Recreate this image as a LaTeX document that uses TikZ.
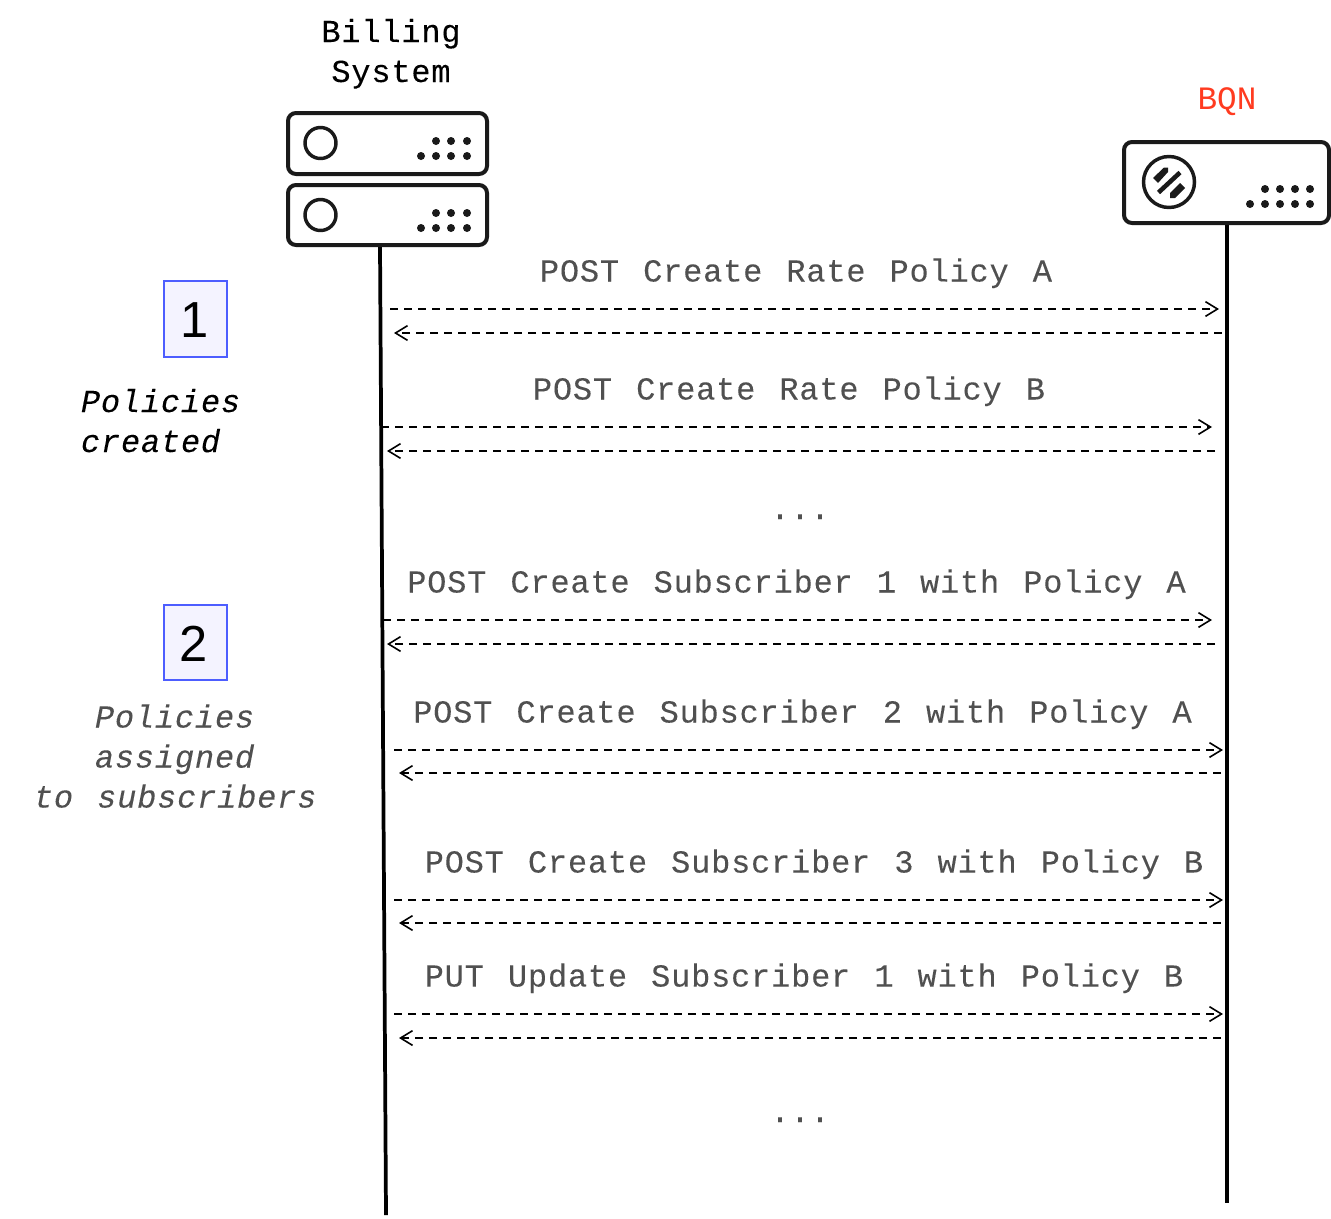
\documentclass[tikz,border=0pt]{standalone}
\usepackage{fontspec}
\usetikzlibrary{arrows.meta}
\setmainfont{Liberation Sans}
\newfontfamily\lblfont[LetterSpace=2.5,WordSpace=1.2,FakeBold=0.1]{Liberation Mono}
\newfontfamily\bqnfont{Liberation Mono}
\definecolor{lblgray}{HTML}{505050}
\definecolor{bqnred}{HTML}{FF3B20}
\definecolor{numfill}{HTML}{F4F3FF}
\definecolor{numline}{HTML}{4D5DFF}
\definecolor{ink}{HTML}{1A1A1A}
\tikzset{
  txt/.style={anchor=base,inner sep=0pt,outer sep=0pt,font=\lblfont\fontsize{24pt}{27pt}\selectfont},
  msg/.style={txt,text=lblgray},
  noteb/.style={anchor=base west,inner sep=0pt,outer sep=0pt,font=\lblfont\itshape\fontsize{24pt}{27pt}\selectfont,text=black},
  noteg/.style={noteb,text=lblgray},
  srv/.style={draw=ink,line width=3pt,rounded corners=6pt,fill=white},
  lamp/.style={draw=ink,line width=2.6pt,fill=white},
  led/.style={circle,fill=ink,inner sep=0pt,minimum size=6pt},
  life/.style={draw=black,line width=2.8pt},
  call/.style={draw=black,line width=1.2pt,dash pattern=on 6pt off 4.5pt,-{Straight Barb[length=9pt,width=11pt,line width=1.2pt]}},
  numbox/.style={draw=numline,line width=1.3pt,fill=numfill},
  numtxt/.style={anchor=base,inner sep=0pt,font=\fontsize{38pt}{40pt}\selectfont,text=black},
  logobar/.style={draw=ink,line width=3.4pt},
  logohook/.style={fill=ink}
}
\begin{document}
\begin{tikzpicture}[x=0.75pt,y=-0.75pt]
\useasboundingbox (0,0) rectangle (1331,1218);
% titles
\node[txt] (t1) at (391,42) {Billing};
\node[txt] (t2) at (391,82) {System};
\node[anchor=base,inner sep=0pt,text=bqnred,font=\bqnfont\fontsize{24.5pt}{27pt}\selectfont] (t3) at (1227,109) {BQN};
% lifelines
\coordinate (L0) at (380,246); \coordinate (L1) at (386,1215);
\coordinate (R0) at (1227,224); \coordinate (R1) at (1227,1203);
\draw[life] (L0) -- (L1);
\draw[life] (R0) -- (R1);
% billing servers
\draw[srv] (288,113) rectangle (487,174);
\draw[srv] (288,185) rectangle (487,245);
\draw[lamp] (320.5,143) circle (15.5);
\draw[lamp] (320.5,215) circle (15.5);
\foreach \y in {141,213}{
  \foreach \x in {436,451,467}{\node[led] at (\x,\y) {};}
  \foreach \x in {421,436,451,467}{\node[led] at (\x,\y+15) {};}
}
% BQN
\draw[srv] (1124,142) rectangle (1329,223);
\draw[lamp] (1169,182) circle (25.5);
\draw[logobar] (1158.5,192.5) -- (1180,172.5);
\fill[logohook] (1153,178) -- (1164,167.5) -- (1168,167.5) -- (1168,172) -- (1158,183) -- cycle;
\fill[logohook] (1170,198) -- (1170,193) -- (1180,183) -- (1185,188) -- (1175,198) -- cycle;
\foreach \x in {1265,1280,1295,1310}{\node[led] at (\x,189) {};}
\foreach \x in {1250,1265,1280,1295,1310}{\node[led] at (\x,204) {};}
% number boxes
\node[numbox,minimum width=47pt,minimum height=56.5pt,inner sep=0pt] (n1) at (195.5,319) {};
\node[numtxt] at (194.5,337) {1};
\node[numbox,minimum width=47pt,minimum height=56pt,inner sep=0pt] (n2) at (195.5,642.5) {};
\node[numtxt] at (194,661) {2};
% notes
\node[noteb] (p1) at (81,412) {Policies};
\node[noteb] (p2) at (81,452) {created};
\node[noteg] (q1) at (95,727.5) {Policies};
\node[noteg] (q2) at (95,767.5) {assigned};
\node[noteg] (q3) at (34,807.5) {to subscribers};
% messages
\node[msg] (m1) at (796,281.5) {POST Create Rate Policy A};
\coordinate (a1) at (390,309); \coordinate (b1) at (1219,309);
\coordinate (c1) at (1222,333); \coordinate (d1) at (394,333);
\draw[call] (a1) -- (b1); \draw[call] (c1) -- (d1);
\node[msg] (m2) at (789,399.5) {POST Create Rate Policy B};
\coordinate (a2) at (381,427); \coordinate (b2) at (1212,427);
\coordinate (c2) at (1215,451); \coordinate (d2) at (387,451);
\draw[call] (a2) -- (b2); \draw[call] (c2) -- (d2);
\node[msg] (e1) at (800,519) {...};
\node[msg] (m3) at (796.5,592.5) {POST Create Subscriber 1 with Policy A};
\coordinate (a3) at (383,620); \coordinate (b3) at (1212,620);
\coordinate (c3) at (1215,644); \coordinate (d3) at (387,644);
\draw[call] (a3) -- (b3); \draw[call] (c3) -- (d3);
\node[msg] (m4) at (802.5,722.5) {POST Create Subscriber 2 with Policy A};
\coordinate (a4) at (394,750); \coordinate (b4) at (1223,750);
\coordinate (c4) at (1221,773); \coordinate (d4) at (399,773);
\draw[call] (a4) -- (b4); \draw[call] (c4) -- (d4);
\node[msg] (m5) at (814,872.5) {POST Create Subscriber 3 with Policy B};
\coordinate (a5) at (394,900); \coordinate (b5) at (1223,900);
\coordinate (c5) at (1221,923); \coordinate (d5) at (399,923);
\draw[call] (a5) -- (b5); \draw[call] (c5) -- (d5);
\node[msg] (m6) at (804,986.5) {PUT Update Subscriber 1 with Policy B};
\coordinate (a6) at (394,1014); \coordinate (b6) at (1223,1014);
\coordinate (c6) at (1221,1038); \coordinate (d6) at (399,1038);
\draw[call] (a6) -- (b6); \draw[call] (c6) -- (d6);
\node[msg] (e2) at (800,1122) {...};
\end{tikzpicture}
\end{document}
